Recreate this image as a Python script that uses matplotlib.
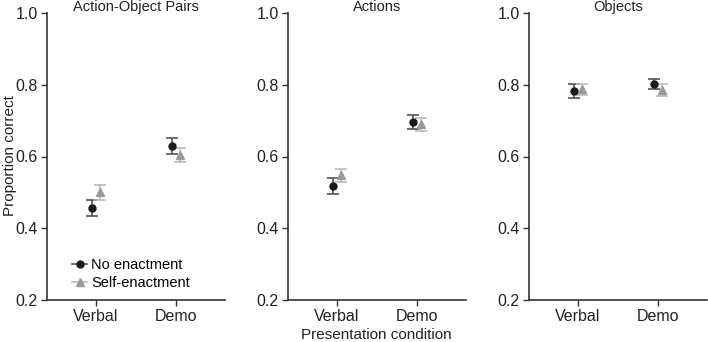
import numpy as np
import matplotlib.pyplot as plt
from matplotlib.lines import Line2D

plt.rcParams['font.family'] = ['Liberation Sans', 'DejaVu Sans']

panels = ['Action-Object Pairs', 'Actions', 'Objects']
conditions = ['Verbal', 'Demo']

# means and standard errors, per panel: [Verbal, Demo]
no_mean = [[0.457, 0.629], [0.518, 0.697], [0.782, 0.802]]
no_err = [[0.022, 0.022], [0.022, 0.019], [0.020, 0.014]]
self_mean = [[0.500, 0.604], [0.548, 0.690], [0.787, 0.785]]
self_err = [[0.020, 0.020], [0.018, 0.018], [0.015, 0.017]]

no_col, no_ecol = '#1a1a1a', '#555555'
self_col, self_ecol = '#9a9a9a', '#bbbbbb'

fig = plt.figure(figsize=(7.08, 3.42), dpi=100)
lefts = [47, 288, 529]
axes = []
for i, name in enumerate(panels):
    ax = fig.add_axes([lefts[i] / 708, (342 - 300) / 342, 178 / 708, 287 / 342])
    axes.append(ax)
    x = np.arange(len(conditions))
    ax.errorbar(x - 0.05, no_mean[i], yerr=no_err[i], fmt='o', color=no_col,
                ecolor=no_ecol, elinewidth=1.2, capsize=4, capthick=1.2,
                markersize=5)
    ax.errorbar(x + 0.05, self_mean[i], yerr=self_err[i], fmt='^', color=self_col,
                ecolor=self_ecol, elinewidth=1.2, capsize=4, capthick=1.2,
                markersize=6)
    ax.set_xlim(-0.61, 1.62)
    ax.set_ylim(0.2, 1.0)
    ax.set_yticks([0.2, 0.4, 0.6, 0.8, 1.0])
    ax.set_yticklabels(['0.2', '0.4', '0.6', '0.8', '1.0'])
    ax.set_xticks(x)
    ax.set_xticklabels(conditions)
    ax.spines['top'].set_visible(False)
    ax.spines['right'].set_visible(False)
    for s in ['left', 'bottom']:
        ax.spines[s].set_color('#333333')
        ax.spines[s].set_linewidth(1.2)
    ax.tick_params(direction='out', length=4, width=1, colors='#333333',
                   labelsize=11.5, labelcolor='#222222', pad=2.5)
    # panel title sits just above the axes top, centred on the axes
    fig.text((lefts[i] + 89) / 708, (342 - 7) / 342, name, ha='center',
             va='center', fontsize=10.5, color='#222222')

fig.text(10 / 708, (342 - 156) / 342, 'Proportion correct', rotation=90,
         ha='center', va='center', fontsize=11, color='#222222')
fig.text(376 / 708, (342 - 335) / 342, 'Presentation condition',
         ha='center', va='center', fontsize=11, color='#222222')

handles = [
    Line2D([], [], color=no_ecol, marker='o', markerfacecolor=no_col,
           markeredgecolor=no_col, markersize=5, lw=1.2),
    Line2D([], [], color=self_ecol, marker='^', markerfacecolor=self_col,
           markeredgecolor=self_col, markersize=6, lw=1.2),
]
axes[0].legend(handles, ['No enactment', 'Self-enactment'], loc='lower left',
               bbox_to_anchor=(0.11, 0.015), frameon=False, fontsize=10.5,
               handlelength=1.0, handletextpad=0.3, labelspacing=0.25,
               borderaxespad=0)

fig.savefig('out.png', dpi=100)
